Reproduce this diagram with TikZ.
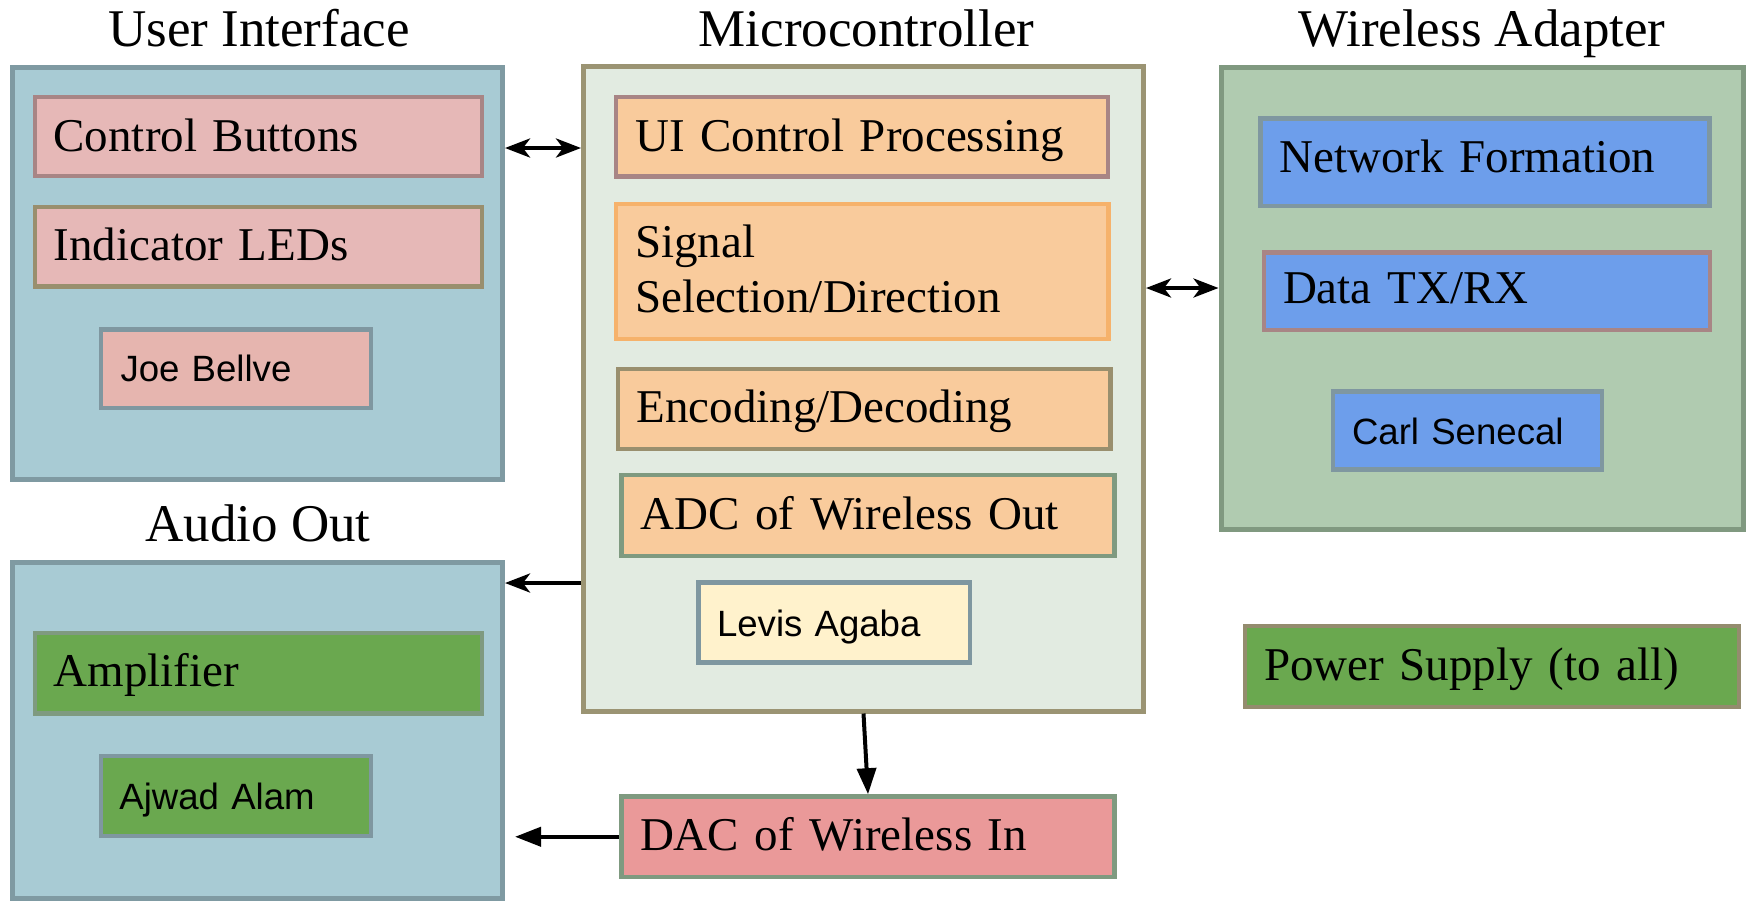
\documentclass[tikz,border=0pt]{standalone}
\usepackage{fontspec}
\setmainfont{Liberation Serif}
\newfontfamily\namefont{Liberation Sans}
\usetikzlibrary{arrows.meta}
\definecolor{uifill}{HTML}{A8CBD4}
\definecolor{uistroke}{HTML}{7F9AA2}
\definecolor{pinkfill}{HTML}{E6B8B7}
\definecolor{joefill}{HTML}{E6B5AF}
\definecolor{mauve}{HTML}{A88585}
\definecolor{olive}{HTML}{998F6E}
\definecolor{bluegray}{HTML}{7F97A0}
\definecolor{mcfill}{HTML}{E2EBE1}
\definecolor{mcstroke}{HTML}{9B9473}
\definecolor{orangefill}{HTML}{F9CB9C}
\definecolor{orangestroke}{HTML}{F6B26B}
\definecolor{greengray}{HTML}{7F9A80}
\definecolor{levfill}{HTML}{FFF2CC}
\definecolor{dacfill}{HTML}{EA9999}
\definecolor{wafill}{HTML}{B0CBB0}
\definecolor{wastroke}{HTML}{809980}
\definecolor{bluefill}{HTML}{6D9EEB}
\definecolor{greenfill}{HTML}{6AA84F}
\definecolor{powstroke}{HTML}{948C6E}
\begin{document}
\begin{tikzpicture}[x=0.5pt,y=-0.5pt,
  cont/.style={draw, line width=2.5pt, inner sep=0pt},
  item/.style={draw, line width=2.3pt, inner ysep=0pt, align=left,
    font=\fontsize{23.5}{27.3}\selectfont},
  nm/.style={item, font=\namefont\fontsize{18.3}{22}\selectfont},
  ttl/.style={font=\fontsize{26.5}{30}\selectfont, inner sep=0pt, anchor=base},
  wide/.style={text width=204.9pt, inner xsep=9.3pt},
  biarrow/.style={line width=2pt,
    {Stealth[length=12.5pt,width=9.5pt,inset=3.5pt]}-{Stealth[length=12.5pt,width=9.5pt,inset=3.5pt]}},
  sarrow/.style={line width=2pt, -{Stealth[length=12.5pt,width=9.5pt,inset=3.5pt]}},
  tri/.style={line width=2pt, -{Triangle[length=13pt,width=9.5pt]}}]
\useasboundingbox (0,0) rectangle (1749,901);

% containers
\node[cont, fill=uifill, draw=uistroke, minimum width=245pt, minimum height=206pt] (ui) at (257.5,273.5) {};
\node[cont, fill=mcfill, draw=mcstroke, minimum width=280pt, minimum height=322.25pt] (mc) at (863.5,388.75) {};
\node[cont, fill=wafill, draw=wastroke, minimum width=261.25pt, minimum height=231pt] (wa) at (1482.25,298.5) {};
\node[cont, fill=uifill, draw=uistroke, minimum width=245pt, minimum height=168pt] (ao) at (257.5,730.5) {};

% titles
\node[ttl] (tui) at (259,46) {User Interface};
\node[ttl] (tmc) at (866.5,46) {Microcontroller};
\node[ttl] (twa) at (1482,46) {Wireless Adapter};
\node[ttl] (tao) at (258,541) {Audio Out};

% user interface
\node[item, wide, fill=pinkfill, draw=mauve, text height=27pt, text depth=12.5pt] (cb) at (258.5,136.5) {Control Buttons};
\node[item, wide, fill=pinkfill, draw=olive, text height=26.85pt, text depth=12.9pt] (led) at (258.5,246.75) {Indicator LEDs};
\node[nm, fill=joefill, draw=bluegray, text width=115.5pt, inner xsep=9.75pt, text height=26.1pt, text depth=13.15pt] (joe) at (236,368.75) {Joe Bellve};

% microcontroller
\node[item, fill=orangefill, draw=mauve, text width=226.6pt, inner xsep=9.7pt, text height=27pt, text depth=12.75pt] (uic) at (862,136.75) {UI Control Processing};
\node[item, fill=orangefill, draw=orangestroke, text width=227.25pt, inner xsep=9.5pt, text height=26.85pt, text depth=40.65pt] (sig) at (862.25,271.5) {Signal\\Selection/Direction};
\node[item, fill=orangefill, draw=olive, text width=227.75pt, inner xsep=9.25pt, text height=26.85pt, text depth=13.15pt] (enc) at (864.25,409) {Encoding/Decoding};
\node[item, fill=orangefill, draw=greengray, text width=227.6pt, inner xsep=9.45pt, text height=27.15pt, text depth=13.35pt] (adc) at (868,515.5) {ADC of Wireless Out};
\node[nm, fill=levfill, draw=bluegray, text width=117.25pt, inner xsep=9.25pt, text height=26.75pt, text depth=13.25pt] (lev) at (834.25,622.5) {Levis Agaba};
\node[item, fill=dacfill, draw=greengray, text width=228pt, inner xsep=9.25pt, text height=26.75pt, text depth=13.5pt] (dac) at (868,836.75) {DAC of Wireless In};

% wireless adapter
\node[item, fill=bluefill, draw=bluegray, text width=205.6pt, inner xsep=9.45pt, text height=26.75pt, text depth=17pt] (net) at (1485,162.25) {Network Formation};
\node[item, fill=bluefill, draw=mauve, text width=204pt, inner xsep=9.5pt, text height=25.5pt, text depth=13.25pt] (dtx) at (1487,291.25) {Data TX/RX};
\node[nm, fill=bluefill, draw=bluegray, text width=115.5pt, inner xsep=9.5pt, text height=26.25pt, text depth=12.75pt] (carl) at (1467.5,430.5) {Carl Senecal};

% audio out
\node[item, wide, fill=greenfill, draw=greengray, text height=26.85pt, text depth=13.4pt] (amp) at (258.5,673.25) {Amplifier};
\node[nm, fill=greenfill, draw=bluegray, text width=116.6pt, inner xsep=9.2pt, text height=26.65pt, text depth=13.35pt] (ajw) at (236,796) {Ajwad Alam};

% power supply
\node[item, fill=greenfill, draw=powstroke, text width=228pt, inner xsep=9.5pt, text height=27pt, text depth=13.5pt] (pow) at (1492,666.5) {Power Supply (to all)};

% connectors
\draw[biarrow] (ui.east |- 0,148) -- (mc.west |- 0,148);
\draw[biarrow] (mc.east |- 0,288) -- (wa.west |- 0,288);
\draw[sarrow] (mc.west |- 0,583) -- (ao.east |- 0,583);
\draw[tri] (mc.south) -- (dac.north);
\draw[tri, shorten >=5pt] (dac.west) -- (ao.east |- dac.west);
\end{tikzpicture}
\end{document}
